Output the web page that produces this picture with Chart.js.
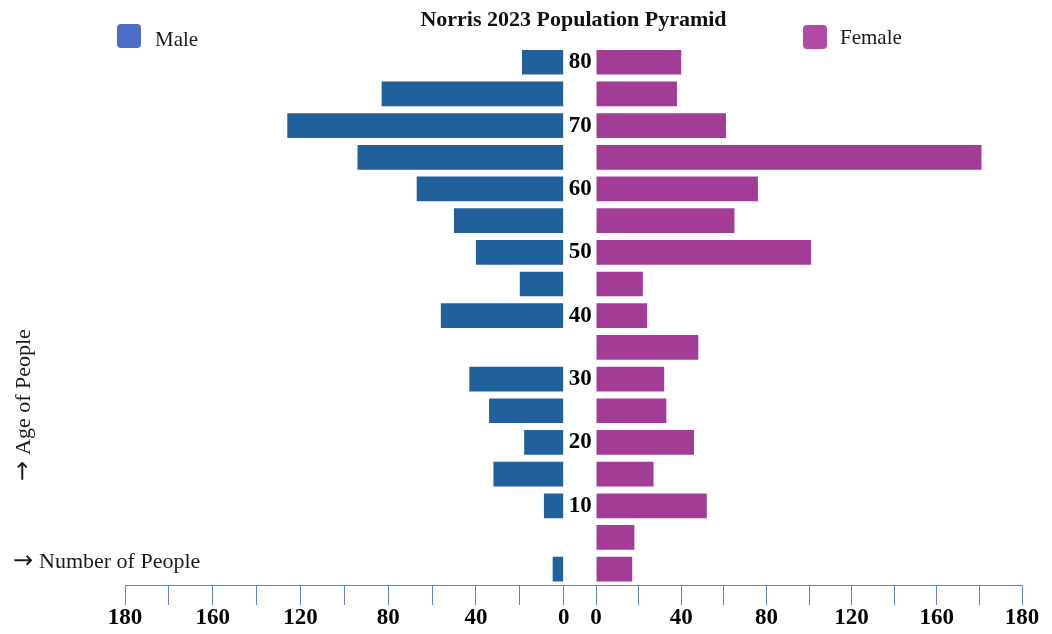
<!DOCTYPE html>
<html>
<head>
<meta charset="UTF-8">
<title>Norris 2023 Population Pyramid</title>
<script src="https://cdn.jsdelivr.net/npm/chart.js@4"></script>
<style>
  html, body { margin: 0; padding: 0; background: #fff; }
</style>
</head>
<body>
<canvas id="pyramid" width="1052" height="634"></canvas>
<script>
// age groups, top row first
const ages = ['80', '75', '70', '65', '60', '55', '50', '45', '40', '35', '30', '25', '20', '15', '10', '5', '0'];
const shownAges = ['80', '70', '60', '50', '40', '30', '20', '10'];
const male = [19, 83, 126, 94, 67, 50, 40, 20, 56, 0, 43, 34, 18, 32, 9, 0, 5];
const female = [40, 38, 61, 181, 76, 65, 101, 22, 24, 48, 32, 33, 46, 27, 52, 18, 17];
// number axis, same on both sides (labels as printed on the original)
const countTicks = [0, 20, 40, 60, 80, 100, 120, 140, 160, 180, 200];
const countTickLabels = ['0', '', '40', '', '80', '', '120', '', '160', '', '180'];

const serif = "'Liberation Serif', 'Times New Roman', serif";
const axisBlue = '#5b86c8';

function countLabel(value) {
  const i = countTicks.indexOf(value);
  return i < 0 ? '' : countTickLabels[i];
}

function countAxis(weight, reverse, min) {
  return {
    type: 'linear',
    position: 'bottom',
    stack: 'people',
    stackWeight: weight,
    reverse: reverse,
    min: min,
    max: 200,
    grid: { drawOnChartArea: false, drawTicks: true, tickLength: 20, tickColor: axisBlue, lineWidth: 1 },
    border: { display: true, color: axisBlue, width: 1 },
    ticks: {
      stepSize: 20,
      includeBounds: false,
      autoSkip: false,
      maxRotation: 0,
      padding: 2,
      color: '#000',
      font: { family: serif, size: 23, weight: 'bold', lineHeight: 1 },
      callback: countLabel
    }
  };
}

// legend boxes and the two arrow captions sit outside the normal layout
function arrowText(ctx, text, x, y) {
  ctx.font = '24px "DejaVu Sans", sans-serif';
  ctx.fillText('\u2192', x - 1, y);
  ctx.font = '22px ' + serif;
  ctx.fillText(text, x + 25, y);
}

const captions = {
  id: 'captions',
  afterDraw(chart) {
    const ctx = chart.ctx;
    ctx.save();
    const legend = [
      { text: chart.data.datasets[0].label, color: '#4a6cc4', x: 117, y: 24, tx: 155, ty: 40 },
      { text: chart.data.datasets[1].label, color: '#b349a4', x: 803, y: 25, tx: 840, ty: 38 }
    ];
    ctx.font = '21px ' + serif;
    ctx.textBaseline = 'middle';
    ctx.textAlign = 'left';
    legend.forEach(item => {
      ctx.fillStyle = item.color;
      ctx.beginPath();
      ctx.roundRect(item.x, item.y, 24, 24, 4);
      ctx.fill();
      ctx.fillStyle = '#1a1a1a';
      ctx.fillText(item.text, item.tx, item.ty);
    });

    arrowText(ctx, 'Number of People', 14, 562);

    ctx.translate(24, 480);
    ctx.rotate(-Math.PI / 2);
    arrowText(ctx, 'Age of People', 0, 0);
    ctx.restore();
  }
};

const chart = new Chart(document.getElementById('pyramid'), {
  type: 'bar',
  data: {
    labels: ages,
    datasets: [
      {
        label: 'Male',
        data: male,
        xAxisID: 'xm',
        backgroundColor: '#20619b'
      },
      {
        label: 'Female',
        data: female,
        xAxisID: 'xf',
        backgroundColor: '#a23c96'
      }
    ]
  },
  options: {
    indexAxis: 'y',
    responsive: false,
    devicePixelRatio: 1,
    animation: false,
    datasets: {
      bar: { grouped: false, categoryPercentage: 1, barPercentage: 0.78 }
    },
    layout: { padding: { left: 125, right: 30, top: 0, bottom: 2 } },
    plugins: {
      legend: { display: false },
      tooltip: { enabled: false },
      title: {
        display: true,
        text: 'Norris 2023 Population Pyramid',
        color: '#111',
        font: { family: serif, size: 22, weight: 'bold' },
        padding: { top: 7, bottom: 13 }
      }
    },
    scales: {
      xm: countAxis(454, true, -7),
      xf: countAxis(443, false, -8),
      y: {
        type: 'category',
        position: { xf: -2 },
        grid: { display: false, drawTicks: false },
        border: { display: false },
        ticks: {
          autoSkip: false,
          padding: 0,
          color: '#000',
          font: { family: serif, size: 23, weight: 'bold' },
          callback: function (value) {
            const age = this.getLabelForValue(value);
            return shownAges.includes(age) ? age : '';
          }
        }
      }
    }
  },
  plugins: [captions]
});
</script>
</body>
</html>
